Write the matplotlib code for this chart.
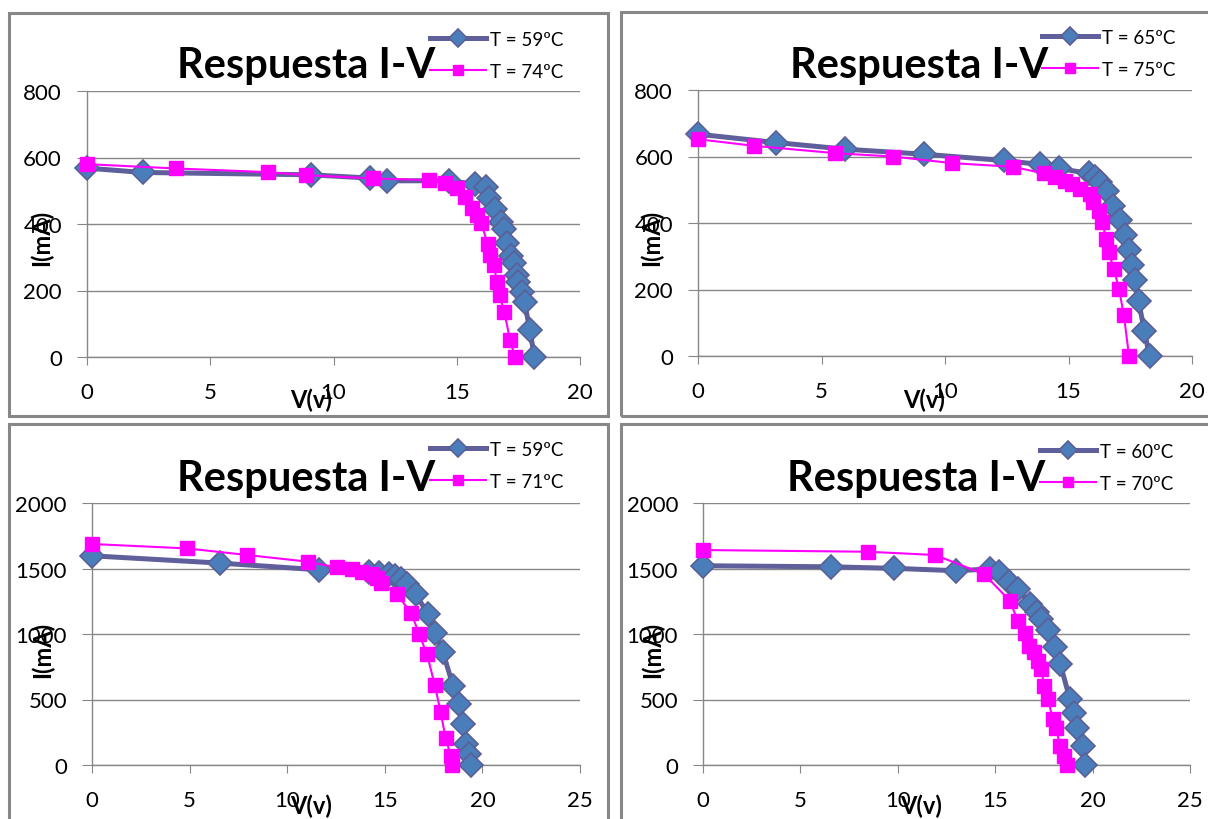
import matplotlib.pyplot as plt
from matplotlib.patches import Rectangle

plt.rcParams['font.family'] = ['Lato', 'DejaVu Sans']

# panel 1
v1a = [0, 2.27, 9.07, 11.5, 12.16, 14.67, 15.74, 16.19, 16.32, 16.55, 16.8, 16.9, 17.02, 17.2, 17.33, 17.43, 17.5, 17.65, 17.75, 17.97, 18.15]
i1a = [568, 555, 548, 538, 530, 530, 520, 510, 478, 444, 405, 385, 344, 304, 282, 246, 226, 196, 164, 80, 0]
v1b = [0, 3.6, 7.35, 8.88, 11.6, 13.89, 14.52, 15.0, 15.33, 15.6, 15.83, 16.0, 16.25, 16.35, 16.52, 16.62, 16.75, 16.93, 17.16, 17.36]
i1b = [580, 567, 556, 547, 537, 532, 522, 509, 482, 447, 427, 402, 341, 306, 276, 225, 185, 135, 52, 0]
# panel 2
v2a = [0, 3.16, 5.96, 9.13, 12.37, 13.86, 14.63, 15.81, 16.08, 16.28, 16.55, 16.82, 17.09, 17.3, 17.43, 17.57, 17.7, 17.84, 18.07, 18.28]
i2a = [667, 642, 622, 607, 588, 576, 564, 549, 537, 522, 497, 452, 408, 363, 318, 273, 228, 164, 76, 0]
v2b = [0, 2.28, 5.56, 7.88, 10.29, 12.77, 13.99, 14.47, 14.87, 15.14, 15.48, 15.86, 16.0, 16.22, 16.36, 16.53, 16.63, 16.83, 17.04, 17.24, 17.45]
i2b = [652, 632, 610, 600, 580, 569, 549, 537, 527, 517, 502, 487, 462, 437, 402, 353, 313, 263, 203, 124, 0]
# panel 3
v3a = [0, 6.58, 11.63, 14.2, 14.72, 15.22, 15.52, 15.82, 16.12, 16.58, 17.22, 17.58, 17.98, 18.5, 18.78, 19.0, 19.17, 19.3, 19.41]
i3a = [1597, 1541, 1490, 1475, 1465, 1457, 1444, 1419, 1381, 1304, 1152, 1011, 859, 604, 464, 311, 158, 82, 0]
v3b = [0, 4.89, 7.94, 11.07, 12.53, 13.33, 13.83, 14.32, 14.62, 14.82, 15.62, 16.36, 16.76, 17.16, 17.56, 17.86, 18.11, 18.38, 18.45]
i3b = [1687, 1653, 1603, 1552, 1508, 1496, 1475, 1457, 1424, 1389, 1304, 1159, 999, 846, 611, 405, 209, 69, 0]
# panel 4
v4a = [0, 6.56, 9.83, 13.0, 14.72, 15.21, 15.7, 16.19, 16.78, 17.13, 17.36, 17.72, 18.05, 18.34, 18.83, 19.03, 19.22, 19.52, 19.62]
i4a = [1521, 1513, 1501, 1483, 1496, 1470, 1399, 1343, 1228, 1169, 1113, 1032, 897, 770, 507, 400, 285, 145, 0]
v4b = [0, 8.46, 11.92, 14.43, 15.76, 16.15, 16.54, 16.74, 16.97, 17.21, 17.36, 17.52, 17.72, 17.95, 18.11, 18.34, 18.54, 18.7]
i4b = [1641, 1628, 1603, 1457, 1253, 1101, 1011, 910, 859, 795, 731, 604, 502, 349, 285, 145, 69, 0]

labels = [('T = 59ºC', 'T = 74ºC'), ('T = 65ºC', 'T = 75ºC'),
          ('T = 59ºC', 'T = 71ºC'), ('T = 60ºC', 'T = 70ºC')]

W, H = 1208, 820
fig = plt.figure(figsize=(W / 100, H / 100), dpi=100)


def fx(x):
    return x / W


def fy(y):
    return 1 - y / H


gray = '#878787'

# chart frames (left, top, right, bottom in pixels)
frames = [(9, 14, 608, 417), (621, 13, 1215, 417), (9, 425, 608, 830), (621, 425, 1215, 830)]
for l, t, r, b in frames:
    fig.add_artist(Rectangle((fx(l), fy(b)), fx(r - l), (b - t) / H, transform=fig.transFigure,
                             fill=False, edgecolor=gray, linewidth=2.2))

# plot areas
boxes = [(87, 92, 580, 358), (698, 91, 1192, 357), (92, 504, 580, 766), (703, 504, 1190, 766)]
xmax = [20, 20, 25, 25]
ymax = [800, 800, 2000, 2000]
ystep = [200, 200, 500, 500]
series = [(v1a, i1a, v1b, i1b), (v2a, i2a, v2b, i2b), (v3a, i3a, v3b, i3b), (v4a, i4a, v4b, i4b)]
title_pos = [(306, 66), (919, 66), (306, 479), (916, 479)]
legend_pos = [(430, 32), (1042, 30), (430, 442), (1040, 444)]
ylab_pos = [(41, 238), (651, 238), (42, 650), (652, 650)]
xlab_pos = [(311, 400), (924, 400), (311, 806), (921, 806)]

for k in range(4):
    l, t, r, b = boxes[k]
    ax = fig.add_axes([fx(l), fy(b), fx(r - l), (b - t) / H])
    va, ia, vb, ib = series[k]
    ax.plot(va, ia, color='#5F5F9B', linewidth=3.6, marker='D', markersize=12.5,
            markerfacecolor='#4A7EBB', markeredgecolor='#5A5F96', markeredgewidth=1.2,
            label=labels[k][0], clip_on=False, zorder=3)
    ax.plot(vb, ib, color='#FF00FF', linewidth=1.5, marker='s', markersize=10.5,
            markerfacecolor='#FF00FF', markeredgecolor='#FF00FF',
            label=labels[k][1], clip_on=False, zorder=4)
    ax.set_xlim(0, xmax[k])
    ax.set_ylim(0, ymax[k])
    ax.set_xticks(range(0, xmax[k] + 1, 5))
    ax.set_yticks(range(0, ymax[k] + 1, ystep[k]))
    ax.grid(axis='y', color=gray, linewidth=1)
    ax.set_axisbelow(True)
    for s in ['top', 'right']:
        ax.spines[s].set_visible(False)
    for s in ['left', 'bottom']:
        ax.spines[s].set_color(gray)
        ax.spines[s].set_linewidth(1)
    ax.tick_params(axis='y', direction='out', length=7, color=gray, pad=11, labelsize=16)
    ax.tick_params(axis='x', direction='out', length=6, color=gray, pad=12, labelsize=16)

    tx, ty = title_pos[k]
    fig.text(fx(tx), fy(ty), 'Respuesta I-V', fontsize=30, fontweight='bold',
             ha='center', va='center')
    lx, ly = legend_pos[k]
    ax.legend(loc='upper left', bbox_to_anchor=(fx(lx), fy(ly)), bbox_transform=fig.transFigure,
              frameon=False, fontsize=13.5, handlelength=3.0, handletextpad=0.2,
              labelspacing=0.8, borderpad=0, borderaxespad=0, numpoints=1, markerscale=0.7)
    yx, yy = ylab_pos[k]
    fig.text(fx(yx), fy(yy), 'I(mA)', fontsize=17, fontweight='bold', rotation=90,
             ha='center', va='center')
    xx, xy = xlab_pos[k]
    fig.text(fx(xx), fy(xy), 'V(v)', fontsize=17, fontweight='bold', ha='center', va='center')

plt.savefig('out.png', dpi=100)
